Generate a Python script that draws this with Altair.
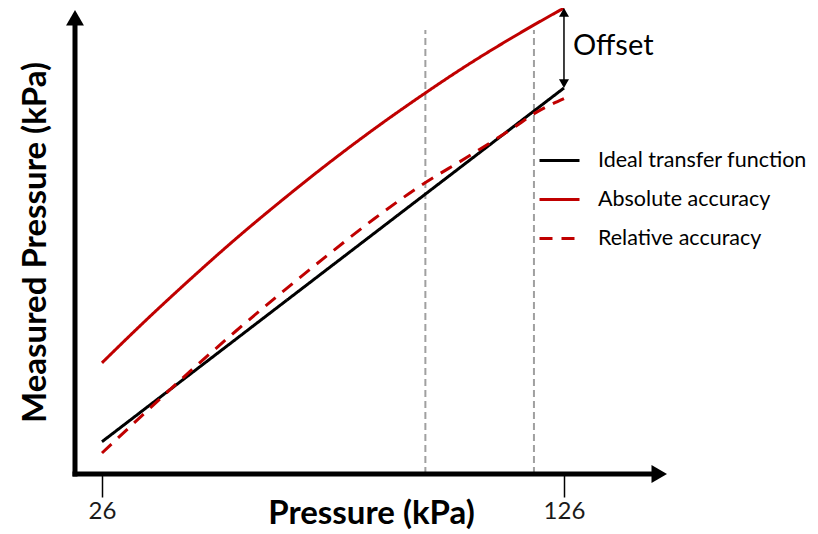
import math
import altair as alt
import pandas as pd

# ---------------- data ----------------
PRESSURE = [26, 35, 45, 55, 65, 75, 85, 95, 105, 115, 120, 126]
IDEAL = [26, 35, 45, 55, 65, 75, 85, 95, 105, 115, 120, 126]
ABSOLUTE = [48.3, 59.7, 71.8, 83.4, 94.3, 104.7, 114.5, 123.7, 132.4, 140.4, 144.2, 148.6]
RELATIVE = [22.8, 33.8, 45.8, 57.3, 68.3, 78.9, 89.1, 98.4, 106.4, 114.7, 119.1, 123.0]
SERIES = ["Ideal transfer function", "Absolute accuracy", "Relative accuracy"]
X_TICKS = [26, 126]
MARKERS = [96, 119.5]
MARKER_TOP = 142.4
X_DOMAIN = [20.16, 148.3]
Y_DOMAIN = [16.87, 148.05]

# ---------------- layout / style ----------------
W, H = 592, 464
FONT = "Lato"
RED = "#c00000"
ARROW_SIZE = 320
OFF_SIZE = 100

PX = W / (X_DOMAIN[1] - X_DOMAIN[0])
PY = H / (Y_DOMAIN[1] - Y_DOMAIN[0])
AH = math.sqrt(3) / 2 * math.sqrt(ARROW_SIZE) / 2
OH = math.sqrt(3) / 2 * math.sqrt(OFF_SIZE) / 2


def xs():
    return alt.Scale(domain=X_DOMAIN, nice=False, zero=False)


def ys():
    return alt.Scale(domain=Y_DOMAIN, nice=False, zero=False)


x_axis = alt.Axis(
    values=X_TICKS, format="d", domain=False, grid=False,
    tickSize=23, tickWidth=1.5, tickColor="black",
    labelFont=FONT, labelFontSize=24, labelColor="#1a1a1a", labelPadding=2,
    labelFlush=False,
    title="Pressure (kPa)", titleFont=FONT, titleFontSize=33,
    titleFontWeight="bold", titleColor="black",
    titleX=W / 2, titleY=49, titleAlign="center", titleBaseline="alphabetic",
)
y_axis = alt.Axis(
    labels=False, ticks=False, domain=False, grid=False,
    title="Measured Pressure (kPa)", titleFont=FONT, titleFontSize=33,
    titleFontWeight="bold", titleColor="black", titleAngle=270,
    titleX=-30, titleY=H / 2, titleAlign="center", titleBaseline="alphabetic",
)


def X(field="x"):
    return alt.X(f"{field}:Q", scale=xs(), axis=x_axis)


def Y(field="y"):
    return alt.Y(f"{field}:Q", scale=ys(), axis=y_axis)


rows = []
for name, vals in zip(SERIES, [IDEAL, ABSOLUTE, RELATIVE]):
    for i, (p, v) in enumerate(zip(PRESSURE, vals)):
        rows.append({"series": name, "x": p, "y": v, "i": i})
lines_df = pd.DataFrame(rows)

legend = alt.Legend(
    title=None, orient="none", legendX=463, legendY=129,
    symbolType="stroke", symbolSize=1600, symbolStrokeWidth=3,
    labelFont=FONT, labelFontSize=21.5, labelColor="black", labelLimit=0,
    labelOffset=17, rowPadding=7,
)

lines = alt.Chart(lines_df).mark_line(strokeWidth=3, interpolate="monotone").encode(
    x=X(), y=Y(),
    color=alt.Color("series:N", scale=alt.Scale(domain=SERIES, range=["#000000", RED, RED]), legend=legend),
    strokeDash=alt.StrokeDash("series:N", scale=alt.Scale(domain=SERIES, range=[[1, 0], [1, 0], [13, 9]]), legend=legend),
    order="i:Q",
)

markers_df = pd.DataFrame({"x": MARKERS, "y": [Y_DOMAIN[0]] * len(MARKERS), "y2": [MARKER_TOP] * len(MARKERS)})
markers = alt.Chart(markers_df).mark_rule(color="#a0a0a0", strokeWidth=2, strokeDash=[7, 4]).encode(
    x=X(), y=Y(), y2="y2:Q",
)

# axis lines with arrowheads
ax_df = pd.DataFrame({
    "x": [X_DOMAIN[0], X_DOMAIN[0]],
    "y": [Y_DOMAIN[0], Y_DOMAIN[0]],
    "x2": [X_DOMAIN[1] - AH / PX, X_DOMAIN[0]],
    "y2": [Y_DOMAIN[0], Y_DOMAIN[1] - AH / PY],
})
axis_lines = alt.Chart(ax_df).mark_rule(color="black", strokeWidth=5, strokeCap="square").encode(
    x=X(), y=Y(), x2="x2:Q", y2="y2:Q",
)
xa_df = pd.DataFrame({"x": [X_DOMAIN[1] - AH / PX], "y": [Y_DOMAIN[0]]})
x_arrow = alt.Chart(xa_df).mark_point(shape="triangle-right", size=ARROW_SIZE, filled=True,
                                      color="black", opacity=1, strokeWidth=0).encode(x=X(), y=Y())
ya_df = pd.DataFrame({"x": [X_DOMAIN[0]], "y": [Y_DOMAIN[1] - AH / PY]})
y_arrow = alt.Chart(ya_df).mark_point(shape="triangle-up", size=ARROW_SIZE, filled=True,
                                      color="black", opacity=1, strokeWidth=0).encode(x=X(), y=Y())

# offset annotation
xe = PRESSURE[-1]
off_df = pd.DataFrame({"x": [xe], "y": [IDEAL[-1] + OH / PY], "y2": [ABSOLUTE[-1] - OH / PY]})
off_rule = alt.Chart(off_df).mark_rule(color="black", strokeWidth=1.5).encode(x=X(), y=Y(), y2="y2:Q")
up_df = pd.DataFrame({"x": [xe], "y": [ABSOLUTE[-1] - OH / PY]})
off_up = alt.Chart(up_df).mark_point(shape="triangle-up", size=OFF_SIZE, filled=True,
                                     color="black", opacity=1, strokeWidth=0).encode(x=X(), y=Y())
dn_df = pd.DataFrame({"x": [xe], "y": [IDEAL[-1] + OH / PY]})
off_dn = alt.Chart(dn_df).mark_point(shape="triangle-down", size=OFF_SIZE, filled=True,
                                     color="black", opacity=1, strokeWidth=0).encode(x=X(), y=Y())
txt_df = pd.DataFrame({"x": [xe], "y": [(IDEAL[-1] + ABSOLUTE[-1]) / 2], "t": ["Offset"]})
off_text = alt.Chart(txt_df).mark_text(align="left", baseline="middle", dx=9, dy=-2,
                                       font=FONT, fontSize=29, color="black").encode(
    x=X(), y=Y(), text="t:N")

chart = alt.layer(
    markers, lines, off_rule, off_up, off_dn, off_text, axis_lines, x_arrow, y_arrow
).properties(
    width=W, height=H,
    autosize=alt.AutoSizeParams(type="none"),
    padding={"left": 67, "top": 2, "right": 143, "bottom": 60},
    background="white",
).configure_view(stroke=None)

chart.save("out.html", embed_options={"renderer": "svg", "actions": False})
